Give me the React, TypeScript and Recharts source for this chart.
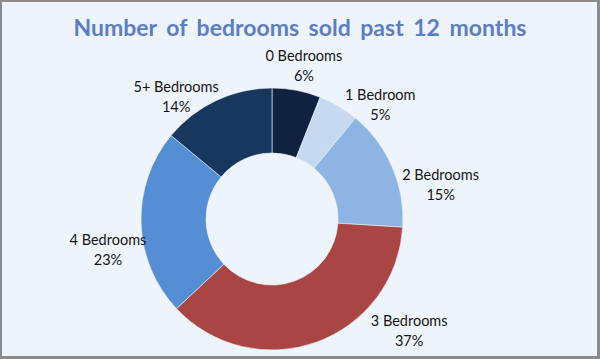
import { PieChart, Pie, Cell } from 'recharts';

const categories = ['0 Bedrooms', '1 Bedroom', '2 Bedrooms', '3 Bedrooms', '4 Bedrooms', '5+ Bedrooms'];
const shares = [6, 5, 15, 37, 23, 14];

const SLICE_COLORS = ['#0f2341', '#c5d9f1', '#8eb4e3', '#a94542', '#558ed5', '#17375e'];

// Excel "best fit" label placement: angle tweak (deg) and distance from centre
const LABEL_PLACEMENT = [
  { dAngle: -1, dist: 156 },
  { dAngle: -13, dist: 157 },
  { dAngle: -12, dist: 172 },
  { dAngle: 31, dist: 177 },
  { dAngle: 9, dist: 167 },
  { dAngle: 13, dist: 155 },
];

const data = categories.map((name, i) => ({ name, value: shares[i] }));

const RAD = Math.PI / 180;

function renderLabel(props: any) {
  const { cx, cy, midAngle, index, name, percent } = props;
  const p = LABEL_PLACEMENT[index];
  const a = (midAngle + p.dAngle) * RAD;
  const x = cx + p.dist * Math.cos(a);
  const y = cy - p.dist * Math.sin(a);
  return (
    <text
      x={x}
      y={y}
      textAnchor="middle"
      fill="#141414"
      fontSize={14.5}
      fontFamily="Lato, 'Open Sans', sans-serif"
    >
      <tspan x={x} y={y - 5}>{name}</tspan>
      <tspan x={x} y={y + 15}>{`${Math.round((percent ?? 0) * 100)}%`}</tspan>
    </text>
  );
}

export default function App() {
  return (
    <div
      style={{
        position: 'fixed',
        left: 0,
        top: 0,
        width: 600,
        height: 359,
        background: '#eef4fc',
        overflow: 'hidden',
      }}
    >
      <div
        style={{
          position: 'absolute',
          left: 0,
          top: 13,
          width: 600,
          textAlign: 'center',
          fontFamily: "Lato, 'Open Sans', sans-serif",
          fontWeight: 700,
          fontSize: 23,
          wordSpacing: 4,
          color: '#5a7ec6',
        }}
      >
        Number of bedrooms sold past 12 months
      </div>
      <div style={{ position: 'absolute', left: 0, top: 0 }}>
        <PieChart width={600} height={359} margin={{ top: 0, right: 0, bottom: 0, left: 0 }}>
          <Pie
            data={data}
            dataKey="value"
            nameKey="name"
            cx={272}
            cy={219}
            innerRadius={66}
            outerRadius={131}
            startAngle={90}
            endAngle={-270}
            stroke="#eef4fc"
            strokeWidth={0.6}
            label={renderLabel}
            labelLine={false}
            isAnimationActive={false}
          >
            {data.map((_, i) => (
              <Cell key={`cell-${i}`} fill={SLICE_COLORS[i]} />
            ))}
          </Pie>
        </PieChart>
      </div>
      <div
        style={{
          position: 'absolute',
          left: 0,
          top: 0,
          width: 600,
          height: 359,
          boxSizing: 'border-box',
          borderLeft: '2px solid #8c8c8c',
          borderTop: '2px solid #8c8c8c',
          borderRight: '3px solid #8c8c8c',
          borderBottom: '3px solid #8c8c8c',
          pointerEvents: 'none',
        }}
      />
    </div>
  );
}
